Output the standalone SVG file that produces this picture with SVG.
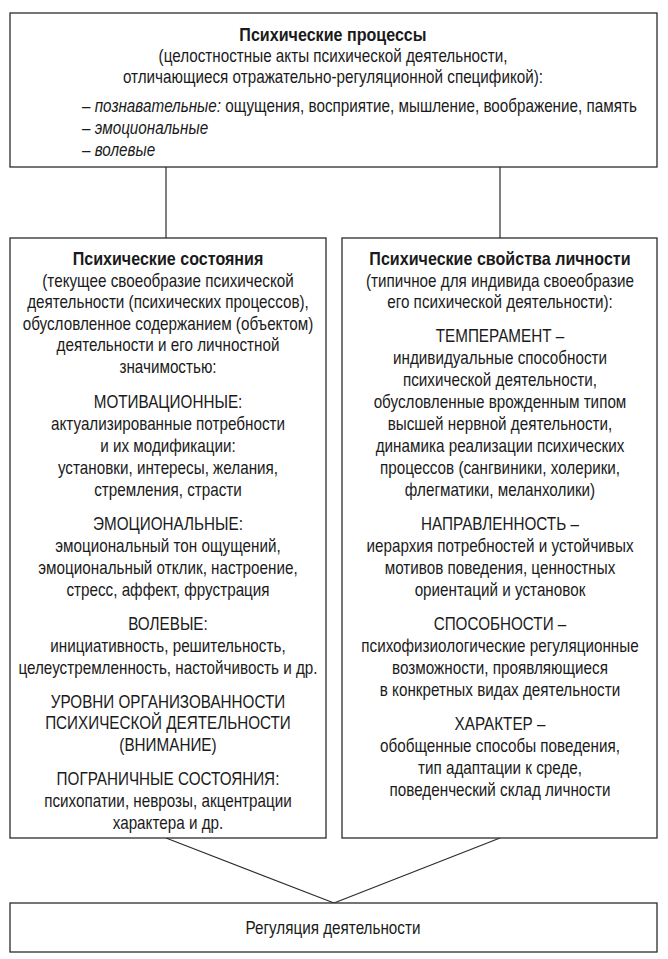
<svg xmlns="http://www.w3.org/2000/svg" width="668" height="959" viewBox="0 0 668 959">
<style>
.box{fill:#fff;stroke:#2b2b2b;stroke-width:1.3}
.ln{stroke:#2b2b2b;stroke-width:1.2;fill:none}
text{font-family:"Liberation Sans",Arial,sans-serif;font-size:17.5px;fill:#1a1a1a}
.c{text-anchor:middle}
.b{font-weight:bold}
.i{font-style:italic}
</style>
<rect width="668" height="959" fill="#fff"/>
<g id="connectors">
<line class="ln" x1="166" y1="167" x2="166" y2="238"/>
<line class="ln" x1="500" y1="167" x2="500" y2="238"/>
<line class="ln" x1="166" y1="838" x2="334" y2="903"/>
<line class="ln" x1="500" y1="838" x2="334" y2="903"/>
</g>
<g id="processes">
<rect class="box" x="10" y="13" width="647" height="154"/>
<text class="c b" transform="matrix(0.92,0,0,1,26.6,0)" x="333" y="41">Психические процессы</text>
<g transform="matrix(0.871,0,0,1,42.96,0)">
<text class="c" x="333" y="62">(целостностные акты психической деятельности,</text>
<text class="c" x="333" y="83">отличающиеся отражательно-регуляционной спецификой):</text>
</g>
<g transform="matrix(0.871,0,0,1,10.58,0)">
<text x="82" y="112">– <tspan class="i">познавательные:</tspan> ощущения, восприятие, мышление, воображение, память</text>
<text x="82" y="134">– <tspan class="i">эмоциональные</tspan></text>
<text x="82" y="156">– <tspan class="i">волевые</tspan></text>
</g>
</g>
<g id="states">
<rect class="box" x="10" y="238" width="316" height="600"/>
<text class="c b" transform="matrix(0.92,0,0,1,13.44,0)" x="168" y="265">Психические состояния</text>
<g transform="matrix(0.871,0,0,1,21.67,0)">
<text class="c" x="168" y="287">(текущее своеобразие психической</text>
<text class="c" x="168" y="308">деятельности (психических процессов),</text>
<text class="c" x="168" y="330">обусловленное содержанием (объектом)</text>
<text class="c" x="168" y="351">деятельности и его личностной</text>
<text class="c" x="168" y="373">значимостью:</text>
<text class="c" x="168" y="408">МОТИВАЦИОННЫЕ:</text>
<text class="c" x="168" y="430">актуализированные потребности</text>
<text class="c" x="168" y="452">и их модификации:</text>
<text class="c" x="168" y="474">установки, интересы, желания,</text>
<text class="c" x="168" y="496">стремления, страсти</text>
<text class="c" x="168" y="530">ЭМОЦИОНАЛЬНЫЕ:</text>
<text class="c" x="168" y="552">эмоциональный тон ощущений,</text>
<text class="c" x="168" y="574">эмоциональный отклик, настроение,</text>
<text class="c" x="168" y="596">стресс, аффект, фрустрация</text>
<text class="c" x="168" y="630">ВОЛЕВЫЕ:</text>
<text class="c" x="168" y="652">инициативность, решительность,</text>
<text class="c" x="168" y="674">целеустремленность, настойчивость и др.</text>
<text class="c" x="168" y="708">УРОВНИ ОРГАНИЗОВАННОСТИ</text>
<text class="c" x="168" y="729">ПСИХИЧЕСКОЙ ДЕЯТЕЛЬНОСТИ</text>
<text class="c" x="168" y="751">(ВНИМАНИЕ)</text>
<text class="c" x="168" y="785">ПОГРАНИЧНЫЕ СОСТОЯНИЯ:</text>
<text class="c" x="168" y="807">психопатии, неврозы, акцентрации</text>
<text class="c" x="168" y="829">характера и др.</text>
</g>
</g>
<g id="properties">
<rect class="box" x="342" y="238" width="315" height="600"/>
<text class="c b" transform="matrix(0.92,0,0,1,40,0)" x="500" y="265">Психические свойства личности</text>
<g transform="matrix(0.871,0,0,1,64.5,0)">
<text class="c" x="500" y="287">(типичное для индивида своеобразие</text>
<text class="c" x="500" y="308">его психической деятельности):</text>
<text class="c" x="500" y="342">ТЕМПЕРАМЕНТ –</text>
<text class="c" x="500" y="364">индивидуальные способности</text>
<text class="c" x="500" y="386">психической деятельности,</text>
<text class="c" x="500" y="408">обусловленные врожденным типом</text>
<text class="c" x="500" y="430">высшей нервной деятельности,</text>
<text class="c" x="500" y="452">динамика реализации психических</text>
<text class="c" x="500" y="474">процессов (сангвиники, холерики,</text>
<text class="c" x="500" y="496">флегматики, меланхолики)</text>
<text class="c" x="500" y="530">НАПРАВЛЕННОСТЬ –</text>
<text class="c" x="500" y="552">иерархия потребностей и устойчивых</text>
<text class="c" x="500" y="574">мотивов поведения, ценностных</text>
<text class="c" x="500" y="596">ориентаций и установок</text>
<text class="c" x="500" y="630">СПОСОБНОСТИ –</text>
<text class="c" x="500" y="652">психофизиологические регуляционные</text>
<text class="c" x="500" y="674">возможности, проявляющиеся</text>
<text class="c" x="500" y="696">в конкретных видах деятельности</text>
<text class="c" x="500" y="730">ХАРАКТЕР –</text>
<text class="c" x="500" y="752">обобщенные способы поведения,</text>
<text class="c" x="500" y="774">тип адаптации к среде,</text>
<text class="c" x="500" y="796">поведенческий склад личности</text>
</g>
</g>
<g id="regulation">
<rect class="box" x="10" y="903" width="647" height="49"/>
<text class="c" transform="matrix(0.871,0,0,1,42.96,0)" x="333" y="934">Регуляция деятельности</text>
</g>
</svg>
